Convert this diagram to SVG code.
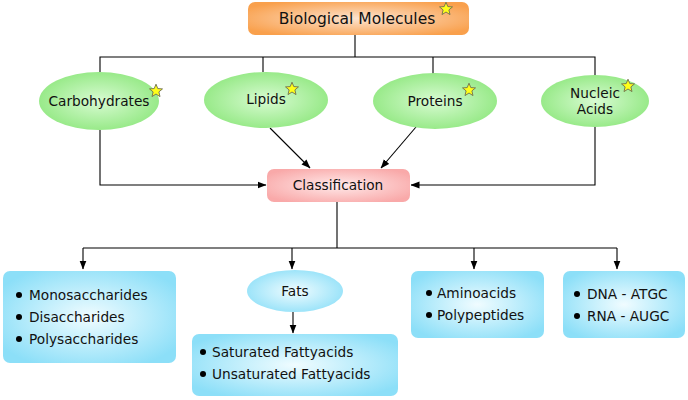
<svg xmlns="http://www.w3.org/2000/svg" xmlns:xlink="http://www.w3.org/1999/xlink" width="688" height="400" viewBox="0 0 688 400">
<defs>
<radialGradient id="gOrange" cx="50%" cy="50%" r="60%"><stop offset="0" stop-color="#fde3cf"/><stop offset="1" stop-color="#f9a04c"/></radialGradient>
<radialGradient id="gGreen" cx="50%" cy="50%" r="55%"><stop offset="0" stop-color="#d8fbd2"/><stop offset="1" stop-color="#92e882"/></radialGradient>
<radialGradient id="gPink" cx="50%" cy="50%" r="60%"><stop offset="0" stop-color="#ffeaea"/><stop offset="1" stop-color="#f9a9a9"/></radialGradient>
<radialGradient id="gBlue" cx="50%" cy="50%" r="60%"><stop offset="0" stop-color="#f0fcff"/><stop offset="1" stop-color="#8cdff8"/></radialGradient>
<marker id="arr" markerWidth="9" markerHeight="8" refX="8.5" refY="4" orient="auto" markerUnits="userSpaceOnUse"><path d="M0,0.5 L9,4 L0,7.5 z" fill="#000"/></marker>
<path id="star" d="M0,-6.8 L1.8,-2.4 L6.5,-2.1 L2.9,0.9 L4,5.6 L0,3 L-4,5.6 L-2.9,0.9 L-6.5,-2.1 L-1.8,-2.4 z" fill="#ffff1a" stroke="#6f6f4f" stroke-width="0.9"/>
</defs>
<style>
text{font-family:"DejaVu Sans","Verdana",sans-serif;fill:#111;}
.t{font-size:13.7px;}
.m{text-anchor:middle;}
.ln{fill:none;stroke:#000;stroke-width:1.1;}
</style>
<rect width="688" height="400" fill="#fff"/>
<g id="connectors">
<path class="ln" d="M355,35 V57 M100,72 V57 H595 V75 M263,57 V72 M433,57 V74"/>
<path class="ln" d="M100,130 V185 H266" marker-end="url(#arr)"/>
<path class="ln" d="M595,127 V185 H411" marker-end="url(#arr)"/>
<path class="ln" d="M270,128 L310,168" marker-end="url(#arr)"/>
<path class="ln" d="M416,127 L381,168" marker-end="url(#arr)"/>
<path class="ln" d="M337,202 V248 M83,248 H617"/>
<path class="ln" d="M83,248 V269" marker-end="url(#arr)"/>
<path class="ln" d="M292,248 V269" marker-end="url(#arr)"/>
<path class="ln" d="M474,248 V269" marker-end="url(#arr)"/>
<path class="ln" d="M617,248 V269" marker-end="url(#arr)"/>
<path class="ln" d="M293,312 V333" marker-end="url(#arr)"/>
</g>
<g id="biological-molecules">
<rect x="248" y="2" width="221" height="33" rx="7" fill="url(#gOrange)"/>
<text x="357" y="24" class="m" style="font-size:15.5px">Biological Molecules</text>
<use xlink:href="#star" x="446" y="9"/>
</g>
<g id="carbohydrates">
<ellipse cx="99" cy="101" rx="60" ry="29" fill="url(#gGreen)"/>
<text x="99" y="106" class="t m">Carbohydrates</text>
<use xlink:href="#star" x="156" y="91"/>
</g>
<g id="lipids">
<ellipse cx="266" cy="100" rx="62" ry="28" fill="url(#gGreen)"/>
<text x="266" y="104" class="t m">Lipids</text>
<use xlink:href="#star" x="292" y="89"/>
</g>
<g id="proteins">
<ellipse cx="435" cy="101" rx="62" ry="28" fill="url(#gGreen)"/>
<text x="435" y="106" class="t m">Proteins</text>
<use xlink:href="#star" x="469" y="90"/>
</g>
<g id="nucleic-acids">
<ellipse cx="595" cy="101" rx="54" ry="26" fill="url(#gGreen)"/>
<text x="595" y="98" class="t m">Nucleic</text>
<text x="595" y="114" class="t m">Acids</text>
<use xlink:href="#star" x="628" y="86"/>
</g>
<g id="classification">
<rect x="267" y="169" width="143" height="33" rx="7" fill="url(#gPink)"/>
<text x="338" y="190" class="t m">Classification</text>
</g>
<g id="carb-types">
<rect x="3" y="271" width="173" height="92" rx="7" fill="url(#gBlue)"/>
<circle cx="19" cy="295" r="3"/><text x="29" y="300" class="t">Monosaccharides</text>
<circle cx="19" cy="317" r="3"/><text x="29" y="322" class="t">Disaccharides</text>
<circle cx="19" cy="339" r="3"/><text x="29" y="344" class="t">Polysaccharides</text>
</g>
<g id="fats">
<ellipse cx="295" cy="291" rx="48" ry="21" fill="url(#gBlue)"/>
<text x="295" y="296" class="t m">Fats</text>
</g>
<g id="fatty-acids">
<rect x="192" y="334" width="206" height="62" rx="7" fill="url(#gBlue)"/>
<circle cx="203" cy="352" r="3"/><text x="212" y="357" class="t">Saturated Fattyacids</text>
<circle cx="203" cy="374" r="3"/><text x="212" y="379" class="t">Unsaturated Fattyacids</text>
</g>
<g id="protein-types">
<rect x="411" y="271" width="133" height="67" rx="7" fill="url(#gBlue)"/>
<circle cx="429" cy="293" r="3"/><text x="437" y="298" class="t">Aminoacids</text>
<circle cx="429" cy="315" r="3"/><text x="437" y="320" class="t">Polypeptides</text>
</g>
<g id="nucleic-types">
<rect x="563" y="271" width="122" height="67" rx="7" fill="url(#gBlue)"/>
<circle cx="577" cy="294" r="3"/><text x="587" y="299" class="t">DNA - ATGC</text>
<circle cx="577" cy="316" r="3"/><text x="587" y="321" class="t">RNA - AUGC</text>
</g>
</svg>
